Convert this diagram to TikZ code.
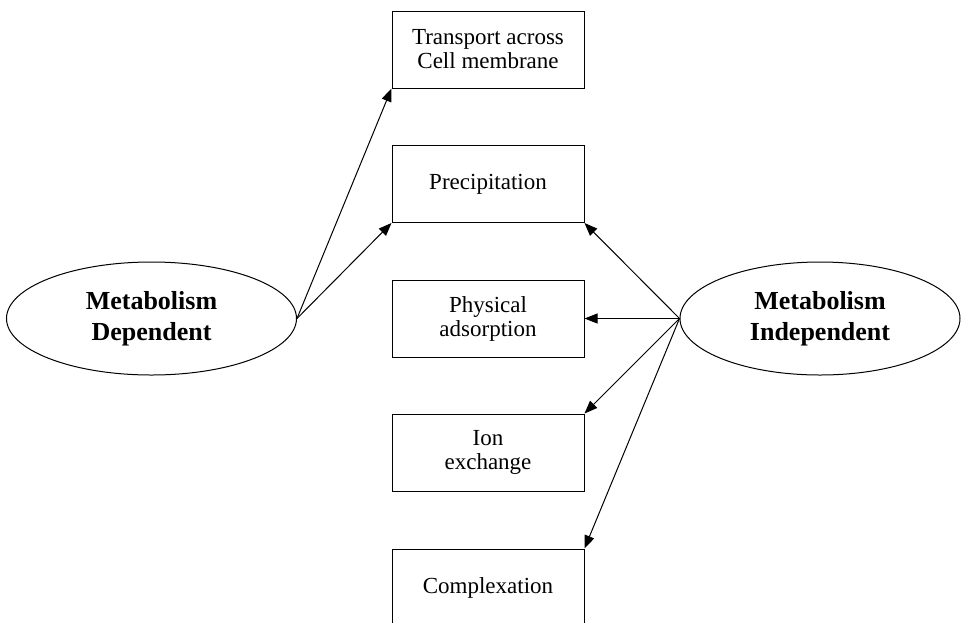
\documentclass[tikz,border=0pt]{standalone}
\usepackage{fontspec}
\setmainfont{Liberation Serif}
\usepackage{tikz}
\usetikzlibrary{shapes.geometric,arrows.meta}

\begin{document}
\begin{tikzpicture}[x = 1pt, y = -1pt,
    mechbox/.style = {rectangle, draw, line width = 1pt, minimum width = 192pt,
      minimum height = 77pt, align = center,
      font = \fontsize{23}{24}\selectfont},
    routeoval/.style = {ellipse, draw, line width = 1pt, minimum height = 113pt,
      align = center, font = \fontsize{26}{31}\selectfont\bfseries},
    uptake/.style = {line width = 1pt, -{Triangle[length = 13pt, width = 10pt]}}]
        \clip (0, 0) rectangle (961, 622);
        \useasboundingbox (0, 0) rectangle (961, 622);
        \node[mechbox] (transport) at (488, 49.5) {Transport across\\Cell membrane};
        \node[mechbox] (precip) at (488, 184) {Precipitation};
        \node[mechbox] (physads) at (488, 318.5) {Physical\\adsorption};
        \node[mechbox] (ionex) at (488, 452.5) {Ion\\exchange};
        \node[mechbox] (complex) at (488, 587.5) {Complexation};
        \node[routeoval, minimum width = 290pt] (dependent) at (151.5, 318.5)
          {Metabolism\\Dependent};
        \node[routeoval, minimum width = 280pt] (independent) at (820, 318.5)
          {Metabolism\\Independent};
        \draw[uptake] (dependent.east) -- (transport.south west);
        \draw[uptake] (dependent.east) -- (precip.south west);
        \draw[uptake] (independent.west) -- (precip.south east);
        \draw[uptake] (independent.west) -- (physads.east);
        \draw[uptake] (independent.west) -- (ionex.north east);
        \draw[uptake] (independent.west) -- (complex.north east);
      \end{tikzpicture}
\end{document}
